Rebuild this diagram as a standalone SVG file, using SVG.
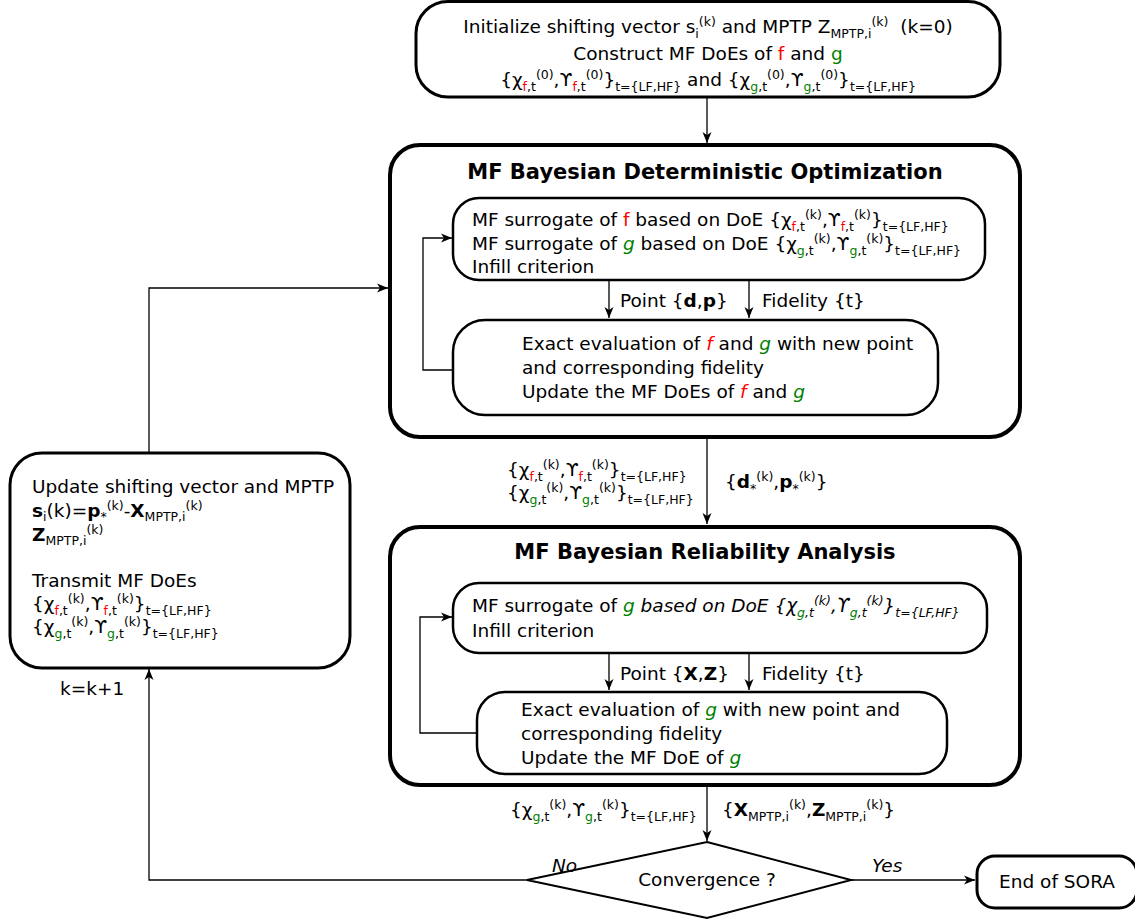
<svg xmlns="http://www.w3.org/2000/svg" width="1135" height="922" viewBox="0 0 1135 922">
<style>
text{font-family:"DejaVu Sans","Liberation Sans",sans-serif;font-size:18.5px;fill:#000}
.s{font-size:12.5px}
.t{font-weight:bold;font-size:21px}
.r{fill:#ff0000}
.g{fill:#008000}
.i{font-style:italic}
.b{font-weight:bold}
.box{fill:#fff;stroke:#000}
.big{stroke-width:4}
.in{stroke-width:2.5}
.c{fill:none;stroke:#000;stroke-width:1.3}
</style>
<defs>
<marker id="ah" viewBox="-12 -5 13 10" markerWidth="13" markerHeight="10" refX="0" refY="0" orient="auto" markerUnits="userSpaceOnUse"><path d="M0,0 L-11,-4.5 L-8,0 L-11,4.5 Z" fill="#000"/></marker>
</defs>

<g id="init">
<rect class="box" x="416" y="1.5" width="584" height="95.5" rx="32" stroke-width="3"/>
<text x="708" y="33" text-anchor="middle">Initialize shifting vector s<tspan class="s" dy="4.5">i</tspan><tspan class="s" dy="-11.5">(k)</tspan><tspan dy="7"> and MPTP Z</tspan><tspan class="s" dy="4.5">MPTP,i</tspan><tspan class="s" dy="-11.5">(k)</tspan><tspan dy="7"> &#160;(k=0)</tspan></text>
<text x="708" y="60" text-anchor="middle">Construct MF DoEs of <tspan class="r">f</tspan> and <tspan class="g">g</tspan></text>
<text x="708" y="86" text-anchor="middle">{χ<tspan class="s r" dy="4.5">f</tspan><tspan class="s">,t</tspan><tspan class="s" dy="-11.5">(0)</tspan><tspan dy="7">,ϒ</tspan><tspan class="s r" dy="4.5">f</tspan><tspan class="s">,t</tspan><tspan class="s" dy="-11.5">(0)</tspan><tspan dy="7">}</tspan><tspan class="s" dy="4.5">t={LF,HF}</tspan><tspan dy="-4.5"> and {χ</tspan><tspan class="s g" dy="4.5">g</tspan><tspan class="s">,t</tspan><tspan class="s" dy="-11.5">(0)</tspan><tspan dy="7">,ϒ</tspan><tspan class="s g" dy="4.5">g</tspan><tspan class="s">,t</tspan><tspan class="s" dy="-11.5">(0)</tspan><tspan dy="7">}</tspan><tspan class="s" dy="4.5">t={LF,HF}</tspan></text>
</g>

<g id="det-opt">
<rect class="box big" x="390" y="145" width="630" height="292" rx="30"/>
<text class="t" x="705" y="179" text-anchor="middle">MF Bayesian Deterministic Optimization</text>
</g>

<g id="det-surrogate">
<rect class="box in" x="453" y="198" width="532" height="82" rx="26"/>
<text x="472" y="226">MF surrogate of <tspan class="r">f</tspan> based on DoE {χ<tspan class="s r" dy="4.5">f</tspan><tspan class="s">,t</tspan><tspan class="s" dy="-11.5">(k)</tspan><tspan dy="7">,ϒ</tspan><tspan class="s r" dy="4.5">f</tspan><tspan class="s">,t</tspan><tspan class="s" dy="-11.5">(k)</tspan><tspan dy="7">}</tspan><tspan class="s" dy="4.5">t={LF,HF}</tspan></text>
<text x="472" y="250">MF surrogate of <tspan class="g i">g</tspan> based on DoE {χ<tspan class="s g" dy="4.5">g</tspan><tspan class="s">,t</tspan><tspan class="s" dy="-11.5">(k)</tspan><tspan dy="7">,ϒ</tspan><tspan class="s g" dy="4.5">g</tspan><tspan class="s">,t</tspan><tspan class="s" dy="-11.5">(k)</tspan><tspan dy="7">}</tspan><tspan class="s" dy="4.5">t={LF,HF}</tspan></text>
<text x="472" y="273">Infill criterion</text>
</g>

<g id="det-labels">
<text x="620" y="307">Point {<tspan class="b">d</tspan>,<tspan class="b">p</tspan>}</text>
<text x="762" y="307">Fidelity {t}</text>
</g>

<g id="det-eval">
<rect class="box in" x="453" y="320" width="485" height="95" rx="32"/>
<text x="522" y="350">Exact evaluation of <tspan class="r i">f</tspan> and <tspan class="g i">g</tspan> with new point</text>
<text x="522" y="374">and corresponding fidelity</text>
<text x="522" y="398">Update the MF DoEs of <tspan class="r i">f</tspan> and <tspan class="g i">g</tspan></text>
</g>

<g id="mid-labels">
<text x="507" y="476">{χ<tspan class="s r" dy="4.5">f</tspan><tspan class="s">,t</tspan><tspan class="s" dy="-11.5">(k)</tspan><tspan dy="7">,ϒ</tspan><tspan class="s r" dy="4.5">f</tspan><tspan class="s">,t</tspan><tspan class="s" dy="-11.5">(k)</tspan><tspan dy="7">}</tspan><tspan class="s" dy="4.5">t={LF,HF}</tspan></text>
<text x="507" y="499">{χ<tspan class="s g" dy="4.5">g</tspan><tspan class="s">,t</tspan><tspan class="s" dy="-11.5">(k)</tspan><tspan dy="7">,ϒ</tspan><tspan class="s g" dy="4.5">g</tspan><tspan class="s">,t</tspan><tspan class="s" dy="-11.5">(k)</tspan><tspan dy="7">}</tspan><tspan class="s" dy="4.5">t={LF,HF}</tspan></text>
<text x="725" y="488">{<tspan class="b">d</tspan><tspan class="s" dy="4.5">*</tspan><tspan class="s" dy="-11.5">(k)</tspan><tspan dy="7">,</tspan><tspan class="b">p</tspan><tspan class="s" dy="4.5">*</tspan><tspan class="s" dy="-11.5">(k)</tspan><tspan dy="7">}</tspan></text>
</g>

<g id="rel-analysis">
<rect class="box big" x="390" y="527" width="630" height="258" rx="30"/>
<text class="t" x="705" y="559" text-anchor="middle">MF Bayesian Reliability Analysis</text>
</g>

<g id="rel-surrogate">
<rect class="box in" x="453" y="583" width="534" height="70" rx="26"/>
<text x="472" y="612">MF surrogate of <tspan class="g i">g</tspan><tspan class="i"> based on DoE {χ</tspan><tspan class="s g i" dy="4.5">g</tspan><tspan class="s i">,t</tspan><tspan class="s i" dy="-11.5">(k)</tspan><tspan class="i" dy="7">,ϒ</tspan><tspan class="s g i" dy="4.5">g</tspan><tspan class="s i">,t</tspan><tspan class="s i" dy="-11.5">(k)</tspan><tspan class="i" dy="7">}</tspan><tspan class="s i" dy="4.5">t={LF,HF}</tspan></text>
<text x="472" y="637">Infill criterion</text>
</g>

<g id="rel-labels">
<text x="620" y="680">Point {<tspan class="b">X</tspan>,<tspan class="b">Z</tspan>}</text>
<text x="762" y="680">Fidelity {t}</text>
</g>

<g id="rel-eval">
<rect class="box in" x="477" y="692" width="470" height="82" rx="28"/>
<text x="521" y="716">Exact evaluation of <tspan class="g i">g</tspan> with new point and</text>
<text x="521" y="740">corresponding fidelity</text>
<text x="521" y="764">Update the MF DoE of <tspan class="g i">g</tspan></text>
</g>

<g id="bottom-labels">
<text x="510" y="816">{χ<tspan class="s g" dy="4.5">g</tspan><tspan class="s">,t</tspan><tspan class="s" dy="-11.5">(k)</tspan><tspan dy="7">,ϒ</tspan><tspan class="s g" dy="4.5">g</tspan><tspan class="s">,t</tspan><tspan class="s" dy="-11.5">(k)</tspan><tspan dy="7">}</tspan><tspan class="s" dy="4.5">t={LF,HF}</tspan></text>
<text x="722" y="816">{<tspan class="b">X</tspan><tspan class="s" dy="4.5">MPTP,i</tspan><tspan class="s" dy="-11.5">(k)</tspan><tspan dy="7">,</tspan><tspan class="b">Z</tspan><tspan class="s" dy="4.5">MPTP,i</tspan><tspan class="s" dy="-11.5">(k)</tspan><tspan dy="7">}</tspan></text>
</g>

<g id="convergence">
<path class="box" stroke-width="2" d="M707,842 L851,880 L707,918 L527,880 Z"/>
<text x="707" y="886" text-anchor="middle">Convergence ?</text>
<text class="i" x="552" y="872">No</text>
<text class="i" x="872" y="872">Yes</text>
</g>

<g id="end">
<rect class="box" x="977" y="856" width="160" height="52" rx="18" stroke-width="3"/>
<text x="1057" y="888" text-anchor="middle">End of SORA</text>
</g>

<g id="update">
<rect class="box" x="10" y="453" width="340" height="215" rx="32" stroke-width="3"/>
<text x="32" y="493">Update shifting vector and MPTP</text>
<text x="32" y="517"><tspan class="b">s</tspan><tspan class="s" dy="4">i</tspan><tspan dy="-4">(k)=</tspan><tspan class="b">p</tspan><tspan class="s" dy="4">*</tspan><tspan class="s" dy="-11">(k)</tspan><tspan dy="7">-</tspan><tspan class="b">X</tspan><tspan class="s" dy="4">MPTP,i</tspan><tspan class="s" dy="-11">(k)</tspan></text>
<text x="32" y="541"><tspan class="b">Z</tspan><tspan class="s" dy="4">MPTP,i</tspan><tspan class="s" dy="-11">(k)</tspan></text>
<text x="32" y="587">Transmit MF DoEs</text>
<text x="32" y="610">{χ<tspan class="s r" dy="4.5">f</tspan><tspan class="s">,t</tspan><tspan class="s" dy="-11.5">(k)</tspan><tspan dy="7">,ϒ</tspan><tspan class="s r" dy="4.5">f</tspan><tspan class="s">,t</tspan><tspan class="s" dy="-11.5">(k)</tspan><tspan dy="7">}</tspan><tspan class="s" dy="4.5">t={LF,HF}</tspan></text>
<text x="32" y="633">{χ<tspan class="s g" dy="4.5">g</tspan><tspan class="s">,t</tspan><tspan class="s" dy="-11.5">(k)</tspan><tspan dy="7">,ϒ</tspan><tspan class="s g" dy="4.5">g</tspan><tspan class="s">,t</tspan><tspan class="s" dy="-11.5">(k)</tspan><tspan dy="7">}</tspan><tspan class="s" dy="4.5">t={LF,HF}</tspan></text>
</g>

<g id="k-label">
<text x="60" y="695">k=k+1</text>
</g>

<g id="connectors">
<path class="c" d="M707,97 V143" marker-end="url(#ah)"/>
<path class="c" d="M609,280 V318" marker-end="url(#ah)"/>
<path class="c" d="M749,280 V318" marker-end="url(#ah)"/>
<path class="c" d="M453,370 H423 V238 H452" marker-end="url(#ah)"/>
<path class="c" d="M707,437 V524" marker-end="url(#ah)"/>
<path class="c" d="M609,653 V690" marker-end="url(#ah)"/>
<path class="c" d="M749,653 V690" marker-end="url(#ah)"/>
<path class="c" d="M477,733 H420 V617 H452" marker-end="url(#ah)"/>
<path class="c" d="M707,785 V841" marker-end="url(#ah)"/>
<path class="c" d="M851,880 H975" marker-end="url(#ah)"/>
<path class="c" d="M527,880 H149 V669" marker-end="url(#ah)"/>
<path class="c" d="M149,453 V288 H388" marker-end="url(#ah)"/>
</g>
</svg>
